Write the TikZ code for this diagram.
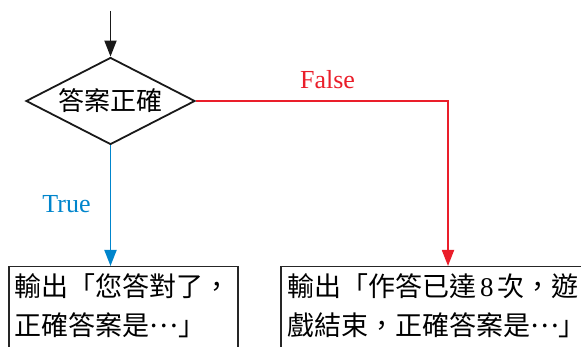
\documentclass[tikz,border=0pt]{standalone}
\usepackage{fontspec}
\setmainfont{Liberation Serif}
\newfontfamily\cjk{Noto Sans CJK TC}
\usetikzlibrary{shapes.geometric,arrows.meta}
\definecolor{fred}{RGB}{234,30,42}
\definecolor{tblue}{RGB}{0,133,204}
\newcommand{\midell}{\raisebox{0.3em}{…}}
\tikzset{
  flow/.style={line width=1.8pt,-{Triangle[length=16pt,width=12pt]}},
  box/.style={draw=black!85,line width=1.5pt,inner sep=0pt,anchor=north west},
  txt/.style={inner sep=0pt,anchor=base west,font=\fontsize{27}{39}\selectfont\cjk},
  lbl/.style={inner sep=0pt,font=\fontsize{26}{30}\selectfont\rmfamily},
}
\begin{document}
\begin{tikzpicture}[x=1pt,y=-1pt]
\useasboundingbox (0,0) rectangle (581,347);
\clip (0,0) rectangle (581,347);
\node[draw=black!90,line width=1.8pt,shape=diamond,aspect=1.94,inner sep=0pt,minimum width=169pt,minimum height=87pt,
      font=\fontsize{26}{30}\selectfont\cjk] (dec) at (110.5,101) {答案正確};
\coordinate (start) at (110.5,11);
\node[box,minimum width=229pt,minimum height=120pt] (ok) at (8,266) {};
\node[box,minimum width=330pt,minimum height=120pt] (fail) at (280,266) {};
\node[txt] (ok1) at (14.5,297) {輸出「您答對了，};
\node[txt] (ok2) at (14.5,336) {正確答案是\midell」};
\node[txt] (fail1) at (287,297) {輸出「作答已達\hspace{4pt}{\rmfamily 8}\hspace{4pt}次，遊};
\node[txt] (fail2) at (287,336) {戲結束，正確答案是\midell\rlap{」}};
\draw[flow,black!90] (start) -- (dec.north);
\draw[flow,fred] (dec.east) -| ([xshift=168pt]fail.north west);
\draw[flow,tblue] (dec.south) -- (dec.south |- ok.north);
\node[lbl,text=fred] (flabel) at (327.5,80) {False};
\node[lbl,text=tblue] (tlabel) at (66.5,204) {True};
\end{tikzpicture}
\end{document}
